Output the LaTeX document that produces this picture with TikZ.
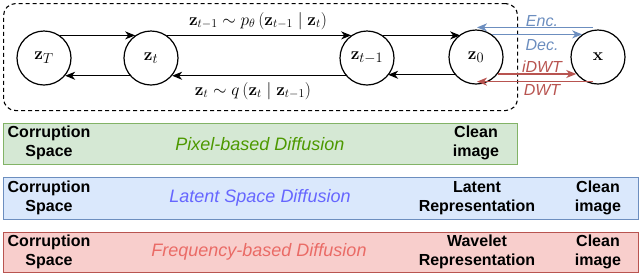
\documentclass[tikz,border=0pt]{standalone}
\usepackage[no-math]{fontspec}
\setmainfont{Liberation Sans}
\usetikzlibrary{arrows.meta,calc}
\definecolor{gfill}{HTML}{D5E8D4}
\definecolor{gdraw}{HTML}{82B366}
\definecolor{gtext}{HTML}{4D9900}
\definecolor{bfill}{HTML}{DAE8FC}
\definecolor{bdraw}{HTML}{6C8EBF}
\definecolor{btext}{HTML}{6666FF}
\definecolor{rfill}{HTML}{F8CECC}
\definecolor{rdraw}{HTML}{B85450}
\definecolor{rtext}{HTML}{EA6B66}
\begin{document}
\begin{tikzpicture}[x=1pt,y=-1pt,
  state/.style={circle,draw,line width=1.2pt,minimum size=54pt,inner sep=0pt,font=\fontsize{19}{22}\selectfont},
  arr/.style={line width=1.2pt,-{Stealth[length=10pt,width=8pt,inset=3pt]}},
  barr/.style={arr,draw=bdraw},
  rarr/.style={arr,draw=rdraw},
  mlabel/.style={font=\fontsize{17.5}{20}\selectfont},
  tlabel/.style={font=\fontsize{16}{19}\selectfont\itshape},
  band/.style={line width=1.2pt,anchor=north west,inner sep=0pt},
  btxt/.style={font=\fontsize{16}{19}\selectfont\bfseries,align=center},
  dtxt/.style={font=\fontsize{18}{21}\selectfont\itshape}
]
\useasboundingbox (0,0) rectangle (640,274);
% dashed frame
\node[draw,line width=1.1pt,rounded corners=12pt,dash pattern=on 4pt off 3pt,minimum width=514pt,minimum height=107pt,anchor=north west,inner sep=0pt] (frame) at (3,3) {};
% states
\node[state] (zT) at (44,58) {$\mathbf{z}_T$};
\node[state] (zt) at (151,58) {$\mathbf{z}_t$};
\node[state] (ztm) at (367,58) {$\mathbf{z}_{t-1}$};
\node[state] (z0) at (476,57) {$\mathbf{z}_0$};
\node[state] (x) at (598,57) {$\mathbf{x}$};
% forward (top) arrows
\coordinate (a1s) at (zT.55);
\draw[arr] (a1s) -- (a1s -| zt.125);
\coordinate (a2s) at (zt.55);
\draw[arr] (a2s) -- (a2s -| ztm.125);
\coordinate (a3s) at (ztm.55);
\draw[arr] (a3s) -- (a3s -| z0.125);
% backward (bottom) arrows
\coordinate (b1s) at (z0.-140);
\draw[arr] (b1s) -- (b1s -| ztm.-40);
\coordinate (b2s) at (ztm.-140);
\draw[arr] (b2s) -- (b2s -| zt.-40);
\coordinate (b3s) at (zt.-140);
\draw[arr] (b3s) -- (b3s -| zT.-40);
\node[mlabel] (lp) at (258,21) {$\mathbf{z}_{t-1}\sim p_\theta\left(\mathbf{z}_{t-1}\mid\mathbf{z}_t\right)$};
\node[mlabel] (lq) at (253,91) {$\mathbf{z}_{t}\sim q\left(\mathbf{z}_{t}\mid\mathbf{z}_{t-1}\right)$};
% encoder/decoder and DWT arrows
\coordinate (encs) at ($(x.north)+(-5,-2)$);
\coordinate (ence) at ($(z0.north)+(1,-2)$);
\draw[barr] (encs) -- (ence);
\draw[barr] (z0.55) -- (x.125);
\draw[rarr] (z0.-38) -- (x.-142);
\coordinate (dwts) at ($(x.south)+(-5,-3)$);
\coordinate (dwte) at ($(z0.south)+(1,-3)$);
\draw[rarr] (dwts) -- (dwte);
\node[tlabel,text=bdraw] (lenc) at (542,21) {Enc.};
\node[tlabel,text=bdraw] (ldec) at (542,45) {Dec.};
\node[tlabel,text=rdraw] (lidwt) at (542,67) {iDWT};
\node[tlabel,text=rdraw] (ldwt) at (542,90) {DWT};
% bands
\node[band,draw=gdraw,fill=gfill,minimum width=514pt,minimum height=41pt] (gband) at (3,123) {};
\node[band,draw=bdraw,fill=bfill,minimum width=635pt,minimum height=42pt] (bband) at (3,177) {};
\node[band,draw=rdraw,fill=rfill,minimum width=635pt,minimum height=40pt] (rband) at (3,232) {};
% band texts
\node[btxt] (g1) at (49,143) {Corruption\\Space};
\node[dtxt,text=gtext] (g2) at (260,144) {Pixel-based Diffusion};
\node[btxt] (g3) at (476,143) {Clean\\image};
\node[btxt] (b1) at (49,198) {Corruption\\Space};
\node[dtxt,text=btext] (b2) at (260,198) {Latent Space Diffusion};
\node[btxt] (b3) at (477,198) {Latent\\Representation};
\node[btxt] (b4) at (598,198) {Clean\\image};
\node[btxt] (r1) at (49,252) {Corruption\\Space};
\node[dtxt,text=rtext] (r2) at (259,252) {Frequency-based Diffusion};
\node[btxt] (r3) at (477,252) {Wavelet\\Representation};
\node[btxt] (r4) at (598,252) {Clean\\image};
\end{tikzpicture}
\end{document}
